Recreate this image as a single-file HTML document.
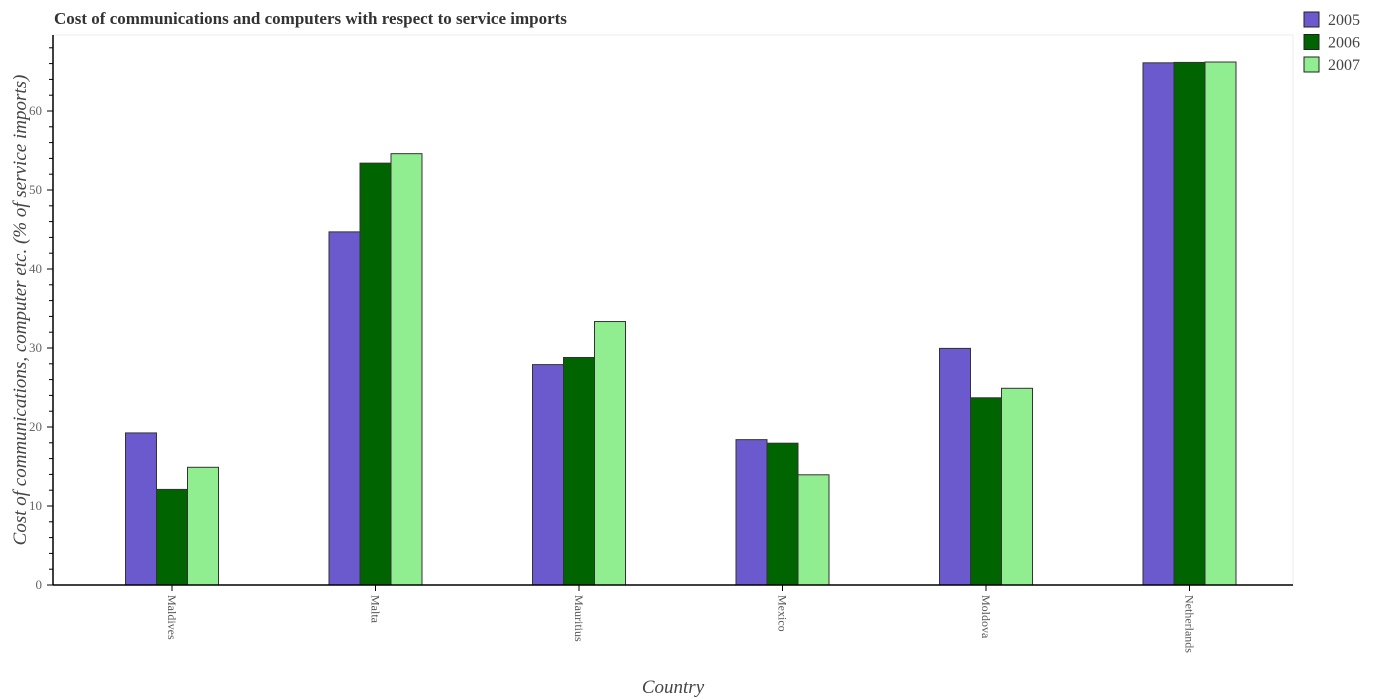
<!DOCTYPE html>
<html><head><meta charset="utf-8"><style>
body{margin:0;background:#fff}
svg{display:block;font-family:"Liberation Serif",serif}
</style></head><body>
<svg id="c" width="1375" height="700">
<text x="54" y="24" font-size="17" font-weight="bold" fill="#333">Cost of communications and computers with respect to service imports</text>
<rect x="53" y="35" width="1240" height="550" fill="none" stroke="#eee"/>
<g id="bars"></g>
<g id="axes"></g>
<text transform="translate(26,310) rotate(-90)" text-anchor="middle" font-size="19" font-style="italic" fill="#444">Cost of communications, computer etc. (% of service imports)</text>
<text x="673" y="693" text-anchor="middle" font-size="19" font-style="italic" fill="#444">Country</text>
<g id="legend"></g>
</svg>
<script>
const categories=["Maldives","Malta","Mauritius","Mexico","Moldova","Netherlands"];
const series=["2005","2006","2007"];
const v2005=[19.25,44.7,27.9,18.4,29.95,66.1];
const v2006=[12.1,53.4,28.8,17.95,23.7,66.15];
const v2007=[14.9,54.6,33.35,13.95,24.9,66.2];
const yTicks=[0,10,20,30,40,50,60];
const colors=["#6a5acd","#006400","#90ee90"];
const NS="http://www.w3.org/2000/svg";
const y0=585,perUnit=7.9,x0=172,step=203.5,bw=31;
const ys=v=>y0-v*perUnit;
const xs=i=>x0+i*step;
function mk(t,a,p){const e=document.createElementNS(NS,t);for(const k in a)e.setAttribute(k,a[k]);p.appendChild(e);return e;}
const bars=document.getElementById('bars'),axes=document.getElementById('axes'),leg=document.getElementById('legend');
const vals=[v2005,v2006,v2007];
categories.forEach((c,i)=>{
 vals.forEach((arr,s)=>{
  const r=mk('rect',{x:xs(i)+(s-1.5)*bw,y:ys(arr[i]),width:bw,height:arr[i]*perUnit,fill:colors[s],stroke:'#333','stroke-width':1},bars);
  
  
 });
 const t=mk('line',{x1:xs(i),x2:xs(i),y1:y0,y2:y0+6,stroke:'#000'},axes);
 
 
 const l=mk('text',{transform:`translate(${xs(i)-4},${y0+10}) rotate(90)`,'font-size':12,fill:'#555'},axes);
 l.textContent=c;
 
 
});
const ax=mk('line',{x1:53,x2:53,y1:35,y2:y0,stroke:'#000','stroke-width':1.5},axes);


const bx=mk('line',{x1:53,x2:1293,y1:y0,y2:y0,stroke:'#000','stroke-width':1.5},axes);


for(let v=0;v<=68;v+=2){
 const major=v%10===0;
 const m=mk('line',{x1:major?47:49,x2:53,y1:ys(v),y2:ys(v),stroke:'#000'},axes);
 
 
}
yTicks.forEach(v=>{
 const t=mk('text',{x:42,y:ys(v)+4,'text-anchor':'end','font-size':13,fill:'#666'},axes);
 t.textContent=v;
 
 
});
series.forEach((s,k)=>{
 const r=mk('rect',{x:1304,y:12+k*22.5,width:15,height:15,fill:colors[k],stroke:'#222'},leg);
 
 
 const t=mk('text',{x:1328,y:25+k*22.5,'font-size':16,fill:'#444'},leg);
 t.textContent=s;
 
 
});
</script>
</body></html>
